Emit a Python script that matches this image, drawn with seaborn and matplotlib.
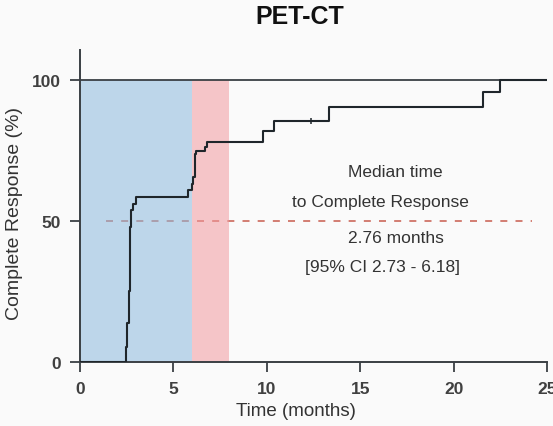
import matplotlib
matplotlib.use("Agg")
import matplotlib.pyplot as plt
import seaborn as sns
import pandas as pd

# ---- data ----
times = [0.0, 2.46, 2.54, 2.62, 2.66, 2.70, 2.74, 2.82, 3.00, 5.80, 5.98, 6.07,
         6.16, 6.21, 6.70, 6.79, 9.82, 10.36, 13.34, 21.55, 22.50, 25.0]
response = [0.0, 5.3, 14.0, 25.0, 38.0, 48.0, 54.0, 56.0, 58.4, 60.8, 63.1, 65.5,
            73.8, 74.9, 76.2, 78.0, 82.0, 85.6, 90.3, 95.6, 100.0, 100.0]
censor_time = [12.36]
censor_resp = [85.6]
median_level = 50
window_blue = [0, 6]
window_red = [6, 8]
x_ticks = [0, 5, 10, 15, 20, 25]
y_ticks = [0, 50, 100]

df = pd.DataFrame({"Time (months)": times, "Complete Response (%)": response})
cdf = pd.DataFrame({"t": censor_time, "r": censor_resp})

sns.set_theme(style="white")
plt.rcParams["font.family"] = ["Liberation Sans", "DejaVu Sans"]

bg = "#fafafa"
fig = plt.figure(figsize=(5.53, 4.27), dpi=100, facecolor=bg)
ax = fig.add_axes([80 / 553, 1 - 363 / 427, 467 / 553, 312 / 427])
ax.set_facecolor(bg)

# dashed median line (under the shaded windows)
ax.plot([1.4, 24.2], [median_level, median_level], color="#d27d72", lw=1.4,
        linestyle=(0, (3.6, 4.2)), zorder=1)

ax.axvspan(window_blue[0], window_blue[1], ymin=0, ymax=100 / 110.6,
           color="#8bbadd", alpha=0.55, lw=0, zorder=2)
ax.axvspan(window_red[0], window_red[1], ymin=0, ymax=100 / 110.6,
           color="#f19a9f", alpha=0.55, lw=0, zorder=2)

# reference line at 100 %
ax.plot([0, 25], [100, 100], color="#3a3f44", lw=1.3, zorder=3)

sns.lineplot(data=df, x="Time (months)", y="Complete Response (%)",
             drawstyle="steps-post", estimator=None, color="#1f262b",
             lw=1.5, ax=ax, zorder=4)
sns.scatterplot(data=cdf, x="t", y="r", marker="|", s=22, color="#1f262b",
                linewidth=1.1, ax=ax, zorder=5)

ax.set_xlim(0, 25)
ax.set_ylim(0, 110.6)
ax.set_xticks(x_ticks)
ax.set_yticks(y_ticks)
ax.set_xticklabels([str(v) for v in x_ticks], fontsize=12.5, fontweight="bold",
                   color="#404040")
ax.set_yticklabels([str(v) for v in y_ticks], fontsize=12.5, fontweight="bold",
                   color="#404040")
ax.tick_params(axis="both", direction="out", length=7, width=1.3,
               color="#3a3f44", pad=7, bottom=True, left=True)

sns.despine(ax=ax)
for s in ["left", "bottom"]:
    ax.spines[s].set_color("#3a3f44")
    ax.spines[s].set_linewidth(1.4)

ax.set_xlabel("Time (months)", fontsize=13.5, color="#333333", va="center")
ax.set_ylabel("Complete Response (%)", fontsize=14, color="#333333", va="center")
ax.xaxis.set_label_coords((296 - 80) / 467, (363 - 412) / 312)
ax.yaxis.set_label_coords((15 - 80) / 467, (363 - 214) / 312)

fig.text(300 / 553, 1 - 17 / 427, "PET-CT", ha="center", va="center",
         fontsize=18, fontweight="bold", color="#111111")

tc = "#333333"
fs = 12.5
ax.text(16.9, 67.4, "Median time", ha="center", va="center", fontsize=fs, color=tc)
ax.text(16.1, 56.9, "to Complete Response", ha="center", va="center", fontsize=fs, color=tc)
ax.text(16.9, 44.3, "2.76 months", ha="center", va="center", fontsize=fs, color=tc)
ax.text(16.2, 33.7, "[95% CI 2.73 - 6.18]", ha="center", va="center", fontsize=fs, color=tc)

fig.savefig("out.png", dpi=100, facecolor=bg)
